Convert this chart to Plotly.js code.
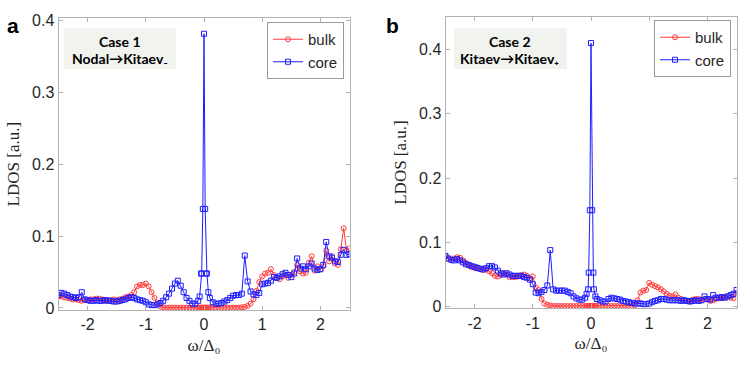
<!DOCTYPE html>
<html>
<head>
<meta charset="utf-8">
<script src="https://cdn.plot.ly/plotly-3.0.1.min.js"></script>
<style>html,body{margin:0;padding:0;background:#fff;}#chart{width:748px;height:368px;}</style>
</head>
<body>
<div id="chart"></div>
<script>
// Energy grid omega/Delta0
const omega = [-2.5,-2.45,-2.4,-2.35,-2.3,-2.25,-2.2,-2.15,-2.1,-2.05,
-2.0,-1.95,-1.9,-1.85,-1.8,-1.75,-1.7,-1.65,-1.6,-1.55,
-1.5,-1.45,-1.4,-1.35,-1.3,-1.25,-1.2,-1.15,-1.1,-1.05,
-1.0,-0.95,-0.9,-0.85,-0.8,-0.75,-0.7,-0.65,-0.6,-0.55,
-0.5,-0.45,-0.4,-0.35,-0.3,-0.25,-0.2,-0.15,-0.1,-0.075,
-0.05,-0.04,-0.02,0,0.02,0.04,0.05,0.075,0.1,0.15,
0.2,0.25,0.3,0.35,0.4,0.45,0.5,0.55,0.6,0.65,
0.7,0.75,0.8,0.85,0.9,0.95,1.0,1.05,1.1,1.15,
1.2,1.25,1.3,1.35,1.4,1.45,1.5,1.55,1.6,1.65,
1.7,1.75,1.8,1.85,1.9,1.95,2.0,2.05,2.1,2.15,
2.2,2.25,2.3,2.35,2.4,2.45,2.5];

// Panel a: Case 1 Nodal -> Kitaev-
const bulkA = [0.016,0.016,0.015,0.014,0.013,0.012,0.012,0.011,0.010,0.011,
0.011,0.012,0.012,0.013,0.013,0.012,0.011,0.011,0.011,0.012,
0.011,0.012,0.013,0.015,0.016,0.018,0.022,0.030,0.032,0.032,
0.034,0.030,0.022,0.014,0.006,0.002,0.001,0.0005,0.0005,0.0005,
0.0005,0.0005,0.0005,0.0005,0.0005,0.0005,0.0005,0.0005,0.0005,0.0005,
0.0005,0.0005,0.0005,0.0005,0.0005,0.0005,0.0005,0.0005,0.0005,0.0005,
0.0005,0.0005,0.0005,0.0005,0.0005,0.0005,0.0005,0.0005,0.0005,0.001,
0.0015,0.003,0.006,0.012,0.024,0.036,0.044,0.048,0.049,0.054,
0.046,0.042,0.040,0.044,0.046,0.042,0.046,0.050,0.060,0.051,
0.048,0.049,0.063,0.072,0.052,0.058,0.054,0.058,0.080,0.065,
0.072,0.062,0.060,0.082,0.111,0.080,0.083];
const coreA = [0.018,0.021,0.020,0.018,0.016,0.015,0.014,0.015,0.022,0.012,
0.011,0.010,0.010,0.011,0.010,0.010,0.011,0.010,0.010,0.009,
0.009,0.010,0.011,0.012,0.014,0.015,0.014,0.012,0.011,0.010,
0.008,0.005,0.004,0.004,0.005,0.007,0.010,0.015,0.020,0.027,
0.034,0.038,0.031,0.022,0.014,0.010,0.006,0.006,0.010,0.016,
0.048,0.048,0.138,0.382,0.138,0.048,0.048,0.022,0.014,0.008,
0.006,0.006,0.007,0.009,0.011,0.014,0.017,0.018,0.018,0.020,
0.073,0.037,0.023,0.019,0.018,0.021,0.033,0.034,0.035,0.038,
0.043,0.042,0.044,0.047,0.049,0.046,0.043,0.048,0.069,0.055,
0.058,0.054,0.058,0.062,0.055,0.053,0.054,0.060,0.092,0.072,
0.070,0.065,0.064,0.074,0.081,0.074,0.075];

// Panel b: Case 2 Kitaev -> Kitaev+
const bulkB = [0.078,0.075,0.072,0.075,0.077,0.076,0.072,0.068,0.064,0.062,
0.060,0.061,0.058,0.057,0.058,0.055,0.052,0.048,0.047,0.049,
0.052,0.050,0.046,0.046,0.046,0.047,0.049,0.050,0.048,0.044,
0.047,0.030,0.026,0.012,0.005,0.003,0.002,0.001,0.001,0.001,
0.001,0.001,0.001,0.001,0.001,0.001,0.001,0.001,0.001,0.001,
0.001,0.001,0.001,0.001,0.001,0.001,0.001,0.001,0.001,0.001,
0.001,0.001,0.001,0.001,0.001,0.001,0.001,0.001,0.001,0.001,
0.001,0.002,0.010,0.022,0.025,0.026,0.037,0.034,0.032,0.030,
0.027,0.024,0.020,0.017,0.016,0.019,0.014,0.012,0.010,0.009,
0.009,0.011,0.012,0.012,0.011,0.012,0.011,0.009,0.010,0.012,
0.013,0.013,0.015,0.016,0.014,0.013,0.022];
const coreB = [0.079,0.075,0.073,0.072,0.074,0.072,0.069,0.066,0.065,0.063,
0.062,0.060,0.059,0.058,0.060,0.063,0.063,0.061,0.056,0.052,
0.050,0.052,0.050,0.048,0.048,0.048,0.048,0.046,0.045,0.042,
0.035,0.022,0.021,0.023,0.026,0.033,0.088,0.027,0.025,0.025,
0.025,0.025,0.023,0.021,0.016,0.013,0.011,0.011,0.014,0.020,
0.027,0.053,0.150,0.410,0.150,0.053,0.027,0.016,0.012,0.010,
0.008,0.008,0.012,0.014,0.013,0.012,0.011,0.009,0.008,0.007,
0.006,0.005,0.005,0.005,0.004,0.004,0.005,0.007,0.009,0.010,
0.012,0.012,0.011,0.010,0.010,0.010,0.010,0.009,0.010,0.009,
0.008,0.009,0.010,0.009,0.010,0.016,0.012,0.011,0.018,0.014,
0.014,0.015,0.014,0.016,0.018,0.020,0.026];

const xTickVals = [-2,-1,0,1,2];
const xTickText = ['-2','-1','0','1','2'];
const yTickVals = [0,0.1,0.2,0.3,0.4];
const yTickText = ['0','0.1','0.2','0.3','0.4'];
const seriesNames = ['bulk','core'];
const panelLabels = ['a','b'];
const caseLine1 = ['Case 1', 'Case 2'];
const caseLine2 = ['Nodal→Kitaev₋', 'Kitaev→Kitaev₊'];
const xTitle = 'ω/Δ₀';
const yTitle = 'LDOS [a.u.]';

const RED = 'rgb(255,60,60)';
const BLUE = 'rgb(30,30,255)';
const W = 748, H = 368;
const px = v => v / W;
const py = v => 1 - v / H;

function bulkTrace(y, xa, ya, leg) {
  return {x: omega, y: y, xaxis: xa, yaxis: ya, legend: leg, name: seriesNames[0],
    type: 'scatter', mode: 'lines+markers',
    line: {color: RED, width: 1},
    marker: {symbol: 'circle-open', size: 5, color: RED, line: {width: 1, color: RED}}};
}
function coreTrace(y, xa, ya, leg) {
  return {x: omega, y: y, xaxis: xa, yaxis: ya, legend: leg, name: seriesNames[1],
    type: 'scatter', mode: 'lines+markers',
    line: {color: BLUE, width: 1},
    marker: {symbol: 'square-open', size: 5, color: BLUE, line: {width: 1, color: BLUE}}};
}

const data = [
  bulkTrace(bulkA, 'x', 'y', 'legend'),
  coreTrace(coreA, 'x', 'y', 'legend'),
  bulkTrace(bulkB, 'x2', 'y2', 'legend2'),
  coreTrace(coreB, 'x2', 'y2', 'legend2')
];

const tickFont = {family: 'Liberation Sans, Arial, sans-serif', size: 16, color: '#262626'};
const titleFont = {family: 'Liberation Serif, Times New Roman, serif', size: 17, color: '#262626'};
const axisBase = {
  showline: true, mirror: 'ticks', linecolor: '#b3b3b3', linewidth: 1,
  ticks: 'inside', ticklen: 4, tickcolor: '#b3b3b3', tickwidth: 1,
  showgrid: false, zeroline: false, tickfont: tickFont, automargin: false
};
const xAxisBase = Object.assign({}, axisBase, {range: [-2.5, 2.5], tickvals: xTickVals, ticktext: xTickText,
  title: {text: xTitle, font: titleFont, standoff: 6}});
const yAxisBase = Object.assign({}, axisBase, {tickvals: yTickVals, ticktext: yTickText,
  title: {text: yTitle, font: titleFont, standoff: 8}});

const legendBase = {
  bgcolor: '#ffffff', bordercolor: '#9a9a9a', borderwidth: 1,
  font: {family: 'Liberation Sans, Arial, sans-serif', size: 15, color: '#262626'},
  itemwidth: 30, tracegroupgap: 0, xanchor: 'right', yanchor: 'top',
  traceorder: 'normal'
};

const caseFont = {family: 'Lato, Open Sans, sans-serif', size: 14, color: '#000', weight: 'bold'};
const labelFont = {family: 'Liberation Sans, Arial, sans-serif', size: 21, color: '#000', weight: 'bold'};

function note(x, y, text, font) {
  return {xref: 'paper', yref: 'paper', x: px(x), y: py(y), text: text, showarrow: false,
    xanchor: 'center', yanchor: 'middle', align: 'center', font: font};
}

const layout = {
  width: W, height: H,
  margin: {l: 0, r: 0, t: 0, b: 0},
  paper_bgcolor: '#ffffff', plot_bgcolor: '#ffffff',
  showlegend: true,
  xaxis: Object.assign({}, xAxisBase, {domain: [px(58.5), px(349.5)], anchor: 'y'}),
  yaxis: Object.assign({}, yAxisBase, {domain: [py(310), py(18.3)], range: [-0.0028, 0.4035], anchor: 'x'}),
  xaxis2: Object.assign({}, xAxisBase, {domain: [px(445.5), px(736.5)], anchor: 'y2'}),
  yaxis2: Object.assign({}, yAxisBase, {domain: [py(308.3), py(16.7)], range: [-0.0025, 0.451], anchor: 'x2'}),
  legend: Object.assign({}, legendBase, {x: px(344), y: py(22)}),
  legend2: Object.assign({}, legendBase, {x: px(731), y: py(20)}),
  shapes: [
    {type: 'rect', xref: 'paper', yref: 'paper', x0: px(64), x1: px(176), y0: py(69), y1: py(28), fillcolor: '#f1f3ee', line: {width: 0}, layer: 'above'},
    {type: 'rect', xref: 'paper', yref: 'paper', x0: px(454), x1: px(567), y0: py(69), y1: py(28), fillcolor: '#f1f3ee', line: {width: 0}, layer: 'above'}
  ],
  annotations: [
    note(120, 41, caseLine1[0], caseFont),
    note(120, 58, caseLine2[0], caseFont),
    note(510, 41, caseLine1[1], caseFont),
    note(510, 58, caseLine2[1], caseFont),
    note(13, 25, panelLabels[0], labelFont),
    note(392, 25, panelLabels[1], labelFont)
  ]
};

Plotly.newPlot('chart', data, layout, {displayModeBar: false});
</script>
</body>
</html>
